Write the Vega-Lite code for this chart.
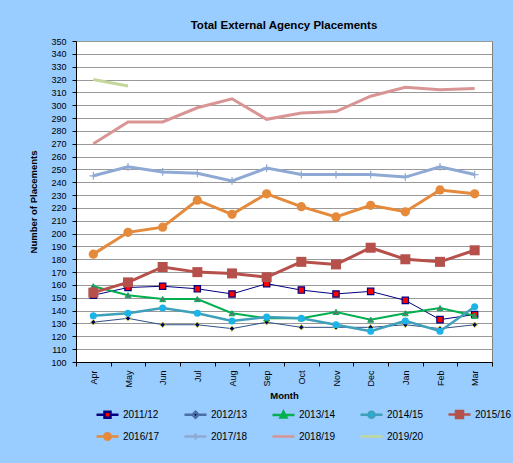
{
  "$schema": "https://vega.github.io/schema/vega-lite/v6.json",
  "width": 416,
  "height": 321,
  "autosize": {"type": "none"},
  "padding": {"left": 76, "top": 41, "right": 21, "bottom": 101},
  "background": "#99CCFF",
  "config": {
    "font": "Liberation Sans",
    "view": {"fill": "#FFFFFF", "stroke": "#808080", "strokeWidth": 1},
    "axis": {"labelFont": "Liberation Sans", "titleFont": "Liberation Sans", "labelColor": "#000000", "titleColor": "#000000", "domainColor": "#000000", "tickColor": "#000000"}
  },
  "title": {"text": "Total External Agency Placements", "fontSize": 11.5, "fontWeight": "bold", "color": "#000000", "offset": 6, "anchor": "middle", "frame": "group", "font": "Liberation Sans"},
  "data": {"values": [
    {"month":"Apr","series":"2011/12","value":152},{"month":"May","series":"2011/12","value":158},{"month":"Jun","series":"2011/12","value":159},{"month":"Jul","series":"2011/12","value":157},{"month":"Aug","series":"2011/12","value":153},{"month":"Sep","series":"2011/12","value":161},{"month":"Oct","series":"2011/12","value":156},{"month":"Nov","series":"2011/12","value":153},{"month":"Dec","series":"2011/12","value":155},{"month":"Jan","series":"2011/12","value":148},{"month":"Feb","series":"2011/12","value":133},{"month":"Mar","series":"2011/12","value":137},
    {"month":"Apr","series":"2012/13","value":131},{"month":"May","series":"2012/13","value":134},{"month":"Jun","series":"2012/13","value":129},{"month":"Jul","series":"2012/13","value":129},{"month":"Aug","series":"2012/13","value":126},{"month":"Sep","series":"2012/13","value":131},{"month":"Oct","series":"2012/13","value":127},{"month":"Nov","series":"2012/13","value":127},{"month":"Dec","series":"2012/13","value":127},{"month":"Jan","series":"2012/13","value":129},{"month":"Feb","series":"2012/13","value":126},{"month":"Mar","series":"2012/13","value":129},
    {"month":"Apr","series":"2013/14","value":159},{"month":"May","series":"2013/14","value":152},{"month":"Jun","series":"2013/14","value":149},{"month":"Jul","series":"2013/14","value":149},{"month":"Aug","series":"2013/14","value":138},{"month":"Sep","series":"2013/14","value":134},{"month":"Oct","series":"2013/14","value":134},{"month":"Nov","series":"2013/14","value":139},{"month":"Dec","series":"2013/14","value":133},{"month":"Jan","series":"2013/14","value":138},{"month":"Feb","series":"2013/14","value":142},{"month":"Mar","series":"2013/14","value":136},
    {"month":"Apr","series":"2014/15","value":136},{"month":"May","series":"2014/15","value":138},{"month":"Jun","series":"2014/15","value":142},{"month":"Jul","series":"2014/15","value":138},{"month":"Aug","series":"2014/15","value":132},{"month":"Sep","series":"2014/15","value":135},{"month":"Oct","series":"2014/15","value":134},{"month":"Nov","series":"2014/15","value":129},{"month":"Dec","series":"2014/15","value":124},{"month":"Jan","series":"2014/15","value":132},{"month":"Feb","series":"2014/15","value":124},{"month":"Mar","series":"2014/15","value":143},
    {"month":"Apr","series":"2015/16","value":154},{"month":"May","series":"2015/16","value":162},{"month":"Jun","series":"2015/16","value":174},{"month":"Jul","series":"2015/16","value":170},{"month":"Aug","series":"2015/16","value":169},{"month":"Sep","series":"2015/16","value":166},{"month":"Oct","series":"2015/16","value":178},{"month":"Nov","series":"2015/16","value":176},{"month":"Dec","series":"2015/16","value":189},{"month":"Jan","series":"2015/16","value":180},{"month":"Feb","series":"2015/16","value":178},{"month":"Mar","series":"2015/16","value":187},
    {"month":"Apr","series":"2016/17","value":184},{"month":"May","series":"2016/17","value":201},{"month":"Jun","series":"2016/17","value":205},{"month":"Jul","series":"2016/17","value":226},{"month":"Aug","series":"2016/17","value":215},{"month":"Sep","series":"2016/17","value":231},{"month":"Oct","series":"2016/17","value":221},{"month":"Nov","series":"2016/17","value":213},{"month":"Dec","series":"2016/17","value":222},{"month":"Jan","series":"2016/17","value":217},{"month":"Feb","series":"2016/17","value":234},{"month":"Mar","series":"2016/17","value":231},
    {"month":"Apr","series":"2017/18","value":245},{"month":"May","series":"2017/18","value":252},{"month":"Jun","series":"2017/18","value":248},{"month":"Jul","series":"2017/18","value":247},{"month":"Aug","series":"2017/18","value":241},{"month":"Sep","series":"2017/18","value":251},{"month":"Oct","series":"2017/18","value":246},{"month":"Nov","series":"2017/18","value":246},{"month":"Dec","series":"2017/18","value":246},{"month":"Jan","series":"2017/18","value":244},{"month":"Feb","series":"2017/18","value":252},{"month":"Mar","series":"2017/18","value":246},
    {"month":"Apr","series":"2018/19","value":270},{"month":"May","series":"2018/19","value":287},{"month":"Jun","series":"2018/19","value":287},{"month":"Jul","series":"2018/19","value":298},{"month":"Aug","series":"2018/19","value":305},{"month":"Sep","series":"2018/19","value":289},{"month":"Oct","series":"2018/19","value":294},{"month":"Nov","series":"2018/19","value":295},{"month":"Dec","series":"2018/19","value":307},{"month":"Jan","series":"2018/19","value":314},{"month":"Feb","series":"2018/19","value":312},{"month":"Mar","series":"2018/19","value":313},
    {"month":"Apr","series":"2019/20","value":320},{"month":"May","series":"2019/20","value":315}
  ]},
  "encoding": {
    "x": {"field": "month", "type": "ordinal", "sort": ["Apr","May","Jun","Jul","Aug","Sep","Oct","Nov","Dec","Jan","Feb","Mar"],
      "scale": {"type": "band", "paddingInner": 0, "paddingOuter": 0},
      "axis": {"title": "Month", "titleFontSize": 9.5, "titleFontWeight": "bold", "titlePadding": 3, "labelAngle": 270, "labelFontSize": 9, "labelPadding": 4, "tickBand": "extent", "tickSize": 4, "grid": false, "domainColor": "#000000"}},
    "y": {"field": "value", "type": "quantitative",
      "scale": {"domain": [100, 350], "nice": false, "zero": false},
      "axis": {"title": "Number of Placements", "titleFontSize": 9.5, "titleFontWeight": "bold", "titlePadding": 12, "values": [100,110,120,130,140,150,160,170,180,190,200,210,220,230,240,250,260,270,280,290,300,310,320,330,340,350], "labelFontSize": 9, "labelPadding": 6, "tickSize": 4, "grid": true, "gridColor": "#999999", "gridWidth": 1, "domainColor": "#000000"}}
  },
  "layer": [
    {"transform": [{"filter": {"field": "series", "equal": "2011/12"}}], "mark": {"type": "line", "color": "#000080", "strokeWidth": 1}},
    {"transform": [{"filter": {"field": "series", "equal": "2011/12"}}], "mark": {"type": "point", "shape": "square", "filled": true, "fill": "#FF0000", "stroke": "#000080", "strokeWidth": 1.2, "size": 40, "opacity": 1}},
    {"transform": [{"filter": {"field": "series", "equal": "2012/13"}}], "mark": {"type": "line", "color": "#2E4F86", "strokeWidth": 1}},
    {"transform": [{"filter": {"field": "series", "equal": "2012/13"}}], "mark": {"type": "point", "shape": "diamond", "filled": true, "fill": "#000060", "stroke": "#C8D040", "strokeWidth": 1, "size": 30, "opacity": 1}},
    {"transform": [{"filter": {"field": "series", "equal": "2013/14"}}], "mark": {"type": "line", "color": "#00B050", "strokeWidth": 2}},
    {"transform": [{"filter": {"field": "series", "equal": "2013/14"}}], "mark": {"type": "point", "shape": "triangle-up", "filled": true, "fill": "#6F6B7F", "stroke": "#00B050", "strokeWidth": 1, "size": 35, "opacity": 1}},
    {"transform": [{"filter": {"field": "series", "equal": "2014/15"}}], "mark": {"type": "line", "color": "#3FA0BA", "strokeWidth": 2.5}},
    {"transform": [{"filter": {"field": "series", "equal": "2014/15"}}], "mark": {"type": "point", "shape": "circle", "filled": true, "fill": "#1CB4E8", "strokeWidth": 0, "size": 50, "opacity": 1}},
    {"transform": [{"filter": {"field": "series", "equal": "2015/16"}}], "mark": {"type": "line", "color": "#B5504B", "strokeWidth": 3}},
    {"transform": [{"filter": {"field": "series", "equal": "2015/16"}}], "mark": {"type": "point", "shape": "square", "filled": true, "fill": "#B5504B", "strokeWidth": 0, "size": 100, "opacity": 1}},
    {"transform": [{"filter": {"field": "series", "equal": "2016/17"}}], "mark": {"type": "line", "color": "#E5893B", "strokeWidth": 3}},
    {"transform": [{"filter": {"field": "series", "equal": "2016/17"}}], "mark": {"type": "point", "shape": "circle", "filled": true, "fill": "#E5893B", "strokeWidth": 0, "size": 85, "opacity": 1}},
    {"transform": [{"filter": {"field": "series", "equal": "2017/18"}}], "mark": {"type": "line", "color": "#8EA9D4", "strokeWidth": 3}},
    {"transform": [{"filter": {"field": "series", "equal": "2017/18"}}], "mark": {"type": "point", "shape": "M0,-1V1M-1,0H1", "filled": false, "stroke": "#8EA9D4", "strokeWidth": 1.2, "size": 60, "opacity": 1}},
    {"transform": [{"filter": {"field": "series", "equal": "2018/19"}}], "mark": {"type": "line", "color": "#D99594", "strokeWidth": 3}},
    {"transform": [{"filter": {"field": "series", "equal": "2019/20"}}], "mark": {"type": "line", "color": "#C4D79B", "strokeWidth": 3}},
    {"transform": [{"filter": "false"}], "mark": {"type": "point", "filled": true, "size": 400, "opacity": 1},
      "encoding": {
        "shape": {"field": "series", "type": "nominal",
          "scale": {"domain": ["2011/12","2012/13","2013/14","2014/15","2015/16","2016/17","2017/18","2018/19","2019/20"],
            "range": [
              "M-1.1,0H-0.3M0.3,0H1.1M-0.3,-0.3H0.3V0.3H-0.3Z",
              "M-1.1,0H-0.3M0.3,0H1.1M0,-0.3L0.3,0L0,0.3L-0.3,0Z",
              "M-1.1,0H-0.2M0.2,0H1.1M0,-0.32L0.3,0.25H-0.3Z",
              "M-1.1,0H-0.3M0.3,0H1.1M-0.3,0A0.3,0.3,0,1,0,0.3,0A0.3,0.3,0,1,0,-0.3,0Z",
              "M-1.1,0H-0.35M0.35,0H1.1M-0.35,-0.35H0.35V0.35H-0.35Z",
              "M-1.1,0H-0.32M0.32,0H1.1M-0.32,0A0.32,0.32,0,1,0,0.32,0A0.32,0.32,0,1,0,-0.32,0Z",
              "M-1.1,0H1.1M0,-0.3V0.3",
              "M-1.1,0H1.1",
              "M-1.1,0H1.1"
            ]},
          "legend": {"title": null, "orient": "none", "legendX": 20, "legendY": 362, "columns": 5, "direction": "horizontal", "columnPadding": 19, "rowPadding": 2, "labelFontSize": 10, "labelFont": "Liberation Sans", "labelColor": "#000000", "labelOffset": 4, "symbolStrokeWidth": 2.5, "symbolSize": 400}},
        "stroke": {"field": "series", "type": "nominal",
          "scale": {"domain": ["2011/12","2012/13","2013/14","2014/15","2015/16","2016/17","2017/18","2018/19","2019/20"],
            "range": ["#000080","#4A6FA5","#00B050","#3FA0BA","#B5504B","#E5893B","#8EA9D4","#D99594","#C4D79B"]},
          "legend": {"title": null, "orient": "none", "legendX": 20, "legendY": 362, "columns": 5, "direction": "horizontal", "columnPadding": 19, "rowPadding": 2, "labelFontSize": 10, "labelFont": "Liberation Sans", "labelColor": "#000000", "labelOffset": 4, "symbolStrokeWidth": 2.5, "symbolSize": 400}},
        "fill": {"field": "series", "type": "nominal",
          "scale": {"domain": ["2011/12","2012/13","2013/14","2014/15","2015/16","2016/17","2017/18","2018/19","2019/20"],
            "range": ["#FF0000","#000060","#6F6B7F","#1CB4E8","#B5504B","#E5893B","#8EA9D4","#D99594","#C4D79B"]},
          "legend": {"title": null, "orient": "none", "legendX": 20, "legendY": 362, "columns": 5, "direction": "horizontal", "columnPadding": 19, "rowPadding": 2, "labelFontSize": 10, "labelFont": "Liberation Sans", "labelColor": "#000000", "labelOffset": 4, "symbolStrokeWidth": 2.5, "symbolSize": 400}}
      }
    }
  ]
}
